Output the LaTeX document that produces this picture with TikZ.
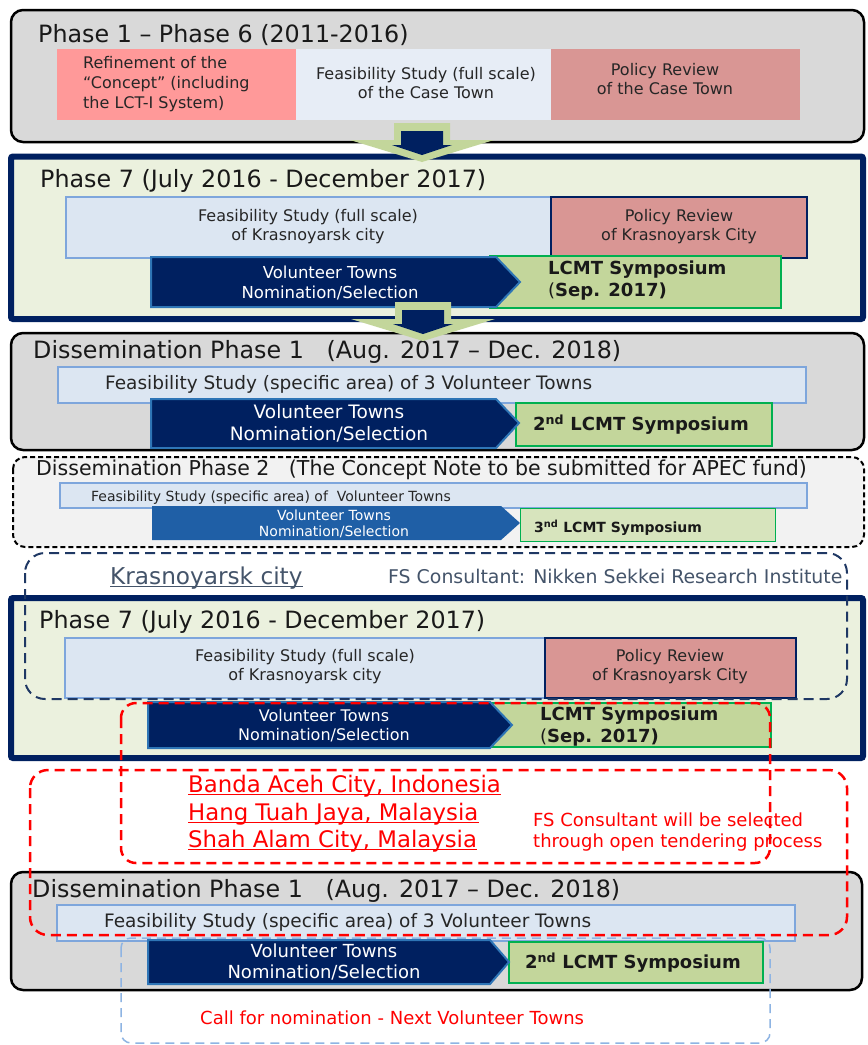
\documentclass[tikz,border=0pt]{standalone}
\usepackage{fontspec}
\setmainfont{DejaVu Sans}

\begin{document}
\begin{tikzpicture}[x=1pt,y=-1pt,
    titulo/.style={anchor=west,inner sep=0pt,text=black!90,font=\fontsize{23.8}{28}\selectfont},
    texto/.style={inner sep=0pt,align=center,text=black!85,font=\fontsize{16}{19}\selectfont},
    blanco/.style={inner sep=0pt,align=center,text=white},
    negrita/.style={anchor=west,inner sep=0pt,align=left,text=black!90,font=\bfseries\fontsize{18}{22}\selectfont},
    rojo/.style={anchor=base west,inner sep=0pt,text=red,font=\fontsize{22.8}{27}\selectfont},
    fase/.style={fill=gris,draw=black,line width=2.5pt,rounded corners=12pt},
    fasesiete/.style={fill=beige,draw=navy,line width=6pt,rounded corners=2pt},
    estudio/.style={fill=celeste,draw=bordeazul,line width=1.5pt},
    revision/.style={fill=rosa,draw=navy,line width=1.5pt},
    flecha/.style={fill=navy,draw=azul,line width=2pt},
    simposio/.style={fill=verde,draw=verdeborde,line width=2.5pt},
    rojadash/.style={draw=red,line width=2.5pt,dash pattern=on 10pt off 6pt,rounded corners=18pt}]
    %colores
    \definecolor{gris}{HTML}{D9D9D9}
    \definecolor{grisclaro}{HTML}{F2F2F2}
    \definecolor{salmon}{HTML}{FF9999}
    \definecolor{celeste}{HTML}{DCE6F2}
    \definecolor{rosa}{HTML}{D99694}
    \definecolor{navy}{HTML}{002060}
    \definecolor{azul}{HTML}{2E75B6}
    \definecolor{azulmedio}{HTML}{1F5FA6}
    \definecolor{verde}{HTML}{C3D69B}
    \definecolor{verdeclaro}{HTML}{D7E4BD}
    \definecolor{verdeborde}{HTML}{00B050}
    \definecolor{beige}{HTML}{EBF1DE}
    \definecolor{bordeazul}{HTML}{7EA6DC}
    \definecolor{celesteborde}{HTML}{8EB4E3}
    \definecolor{navygris}{HTML}{1F3864}
    \definecolor{textogris}{HTML}{44546A}

    % fondo
    \fill[white] (0,0) rectangle (868,1045);
    \useasboundingbox (0,0) rectangle (868,1045);

    % Fase 1 - Fase 6
    \draw[fase] (11,10) rectangle (864,142);
    \fill[salmon] (57,49) rectangle (296,120);
    \fill[celeste!70!white] (296,49) rectangle (551,120);
    \fill[rosa] (551,49) rectangle (800,120);
    \node[titulo] (tit1) at (38,35) {Phase 1 – Phase 6 (2011-2016)};
    \node[texto,anchor=west,align=left,font=\fontsize{16}{20}\selectfont] (concepto) at (83,84) {Refinement of the\\“Concept” (including\\the LCT-I System)};
    \node[texto] (fscase) at (426,83) {Feasibility Study (full scale)\\of the Case Town};
    \node[texto] (prcase) at (665,79) {Policy Review\\of the Case Town};

    % Fase 7
    \draw[fasesiete] (11,156.5) rectangle (863,319);
    \draw[estudio] (66,197) rectangle (551,258);
    \draw[revision] (551,197) rectangle (807,258);
    \draw[simposio] (490,256) rectangle (781,308);
    \draw[flecha] (151,257) -- (496,257) -- (520,282) -- (496,307) -- (151,307) -- cycle;
    \node[titulo] (tit2) at (40,181) {Phase 7 (July 2016 - December 2017)};
    \node[texto] (fskras) at (308,227) {Feasibility Study (full scale)\\of Krasnoyarsk city};
    \node[texto] (prkras) at (679,227) {Policy Review\\of Krasnoyarsk City};
    \node[blanco,font=\fontsize{16.5}{20}\selectfont] (vol2) at (330,283) {Volunteer Towns\\Nomination/Selection};
    \node[negrita] (sym2) at (548,281) {LCMT Symposium\\{\mdseries(}Sep. 2017)};

    % Diseminacion fase 1
    \draw[fase] (11,333) rectangle (864,450);
    \draw[estudio] (58,367) rectangle (806,403);
    \draw[simposio] (516,403) rectangle (772,446);
    \draw[flecha] (151,399) -- (496,399) -- (519,423) -- (496,448) -- (151,448) -- cycle;
    \node[titulo] (tit3) at (33,352) {Dissemination Phase 1\ \ \ (Aug. 2017 – Dec. 2018)};
    \node[texto,anchor=west,font=\fontsize{18.5}{22}\selectfont] (fs3) at (105,384) {Feasibility Study (specific area) of 3 Volunteer Towns};
    \node[blanco,font=\fontsize{18.5}{22}\selectfont] (vol3) at (329,423) {Volunteer Towns\\Nomination/Selection};
    \node[negrita] (sym3) at (533,425) {2\textsuperscript{nd} LCMT Symposium};

    % flechas
    \foreach \ax/\ay in {422/123,423/302}{
        \fill[verde] (\ax-28,\ay) -- (\ax+28,\ay) -- (\ax+28,\ay+17) -- (\ax+72,\ay+17) -- (\ax,\ay+39) -- (\ax-72,\ay+17) -- (\ax-28,\ay+17) -- cycle;
        \fill[navy] (\ax-21,\ay+8) -- (\ax+21,\ay+8) -- (\ax+21,\ay+22) -- (\ax+30,\ay+22) -- (\ax,\ay+32) -- (\ax-30,\ay+22) -- (\ax-21,\ay+22) -- cycle;
    }

    % Diseminacion fase 2
    \draw[fill=grisclaro,draw=black,line width=2pt,dash pattern=on 5pt off 3pt,rounded corners=12pt] (13,457) rectangle (864,547);
    \draw[estudio,line width=1.2pt] (60,483) rectangle (807,508);
    \draw[fill=verdeclaro,draw=verdeborde,line width=1pt] (520,508) rectangle (775,541);
    \fill[azulmedio] (152,506) -- (501,506) -- (520,523) -- (501,540) -- (152,540) -- cycle;
    \node[titulo,font=\fontsize{20.5}{24}\selectfont] (tit4) at (36,470) {Dissemination Phase 2\ \ \ (The Concept Note to be submitted for APEC fund)};
    \node[texto,anchor=west,font=\fontsize{14}{17}\selectfont] (fs4) at (91,498) {Feasibility Study (specific area) of\ \ Volunteer Towns};
    \node[blanco,font=\fontsize{14}{16}\selectfont] (vol4) at (334,524) {Volunteer Towns\\Nomination/Selection};
    \node[negrita,font=\bfseries\fontsize{14}{17}\selectfont] (sym4) at (534,528) {3\textsuperscript{nd} LCMT Symposium};

    % Krasnoyarsk
    \node[anchor=base west,inner sep=0pt,text=textogris,font=\fontsize{23.2}{27}\selectfont] (kras) at (110,584) {Krasnoyarsk city};
    \draw[textogris,line width=1pt] ([yshift=-2.5pt]kras.base west) -- ([yshift=-2.5pt]kras.base east);
    \node[anchor=west,inner sep=0pt,text=textogris,font=\fontsize{18.9}{22}\selectfont] (consul) at (388,576) {FS Consultant: Nikken Sekkei Research Institute};

    % Fase 7 (otra vez)
    \draw[fasesiete] (11,598) rectangle (863,758);
    \draw[estudio] (65,638) rectangle (545,698);
    \draw[revision] (545,638) rectangle (796,698);
    \draw[simposio] (490,703) rectangle (771,747);
    \draw[flecha] (148,702) -- (490,702) -- (512,725) -- (490,748) -- (148,748) -- cycle;
    \node[titulo] (tit5) at (39,622) {Phase 7 (July 2016 - December 2017)};
    \node[texto] (fskras5) at (305,667) {Feasibility Study (full scale)\\of Krasnoyarsk city};
    \node[texto] (prkras5) at (670,667) {Policy Review\\of Krasnoyarsk City};
    \node[blanco,font=\fontsize{16}{19}\selectfont] (vol5) at (324,726) {Volunteer Towns\\Nomination/Selection};
    \node[negrita] (sym5) at (540,727) {LCMT Symposium\\{\mdseries(}Sep. 2017)};

    \draw[navygris,line width=2pt,dash pattern=on 10pt off 6pt,rounded corners=20pt] (25,553) rectangle (847,699);
    \draw[rojadash,rounded corners=15pt] (121,703) rectangle (770,863);

    % ciudades
    \foreach \cy/\ct [count=\i] in {792/{Banda Aceh City, Indonesia},820/{Hang Tuah Jaya, Malaysia},847/{Shah Alam City, Malaysia}}{
        \node[rojo] (ciudad\i) at (188,\cy) {\ct};
        \draw[red,line width=1.2pt] ([yshift=-2.5pt]ciudad\i.base west) -- ([yshift=-2.5pt]ciudad\i.base east);
    }
    \node[anchor=west,inner sep=0pt,align=left,text=red,font=\fontsize{18}{21.5}\selectfont] (licita) at (533,832) {FS Consultant will be selected\\through open tendering process};

    % Diseminacion fase 1 (otra vez)
    \draw[fase] (11,872) rectangle (862,990);
    \draw[estudio] (57,905) rectangle (795,941);
    \draw[simposio] (509,942) rectangle (763,983);
    \draw[flecha] (148,940) -- (490,940) -- (509,962) -- (490,984) -- (148,984) -- cycle;
    \node[titulo] (tit6) at (32,891) {Dissemination Phase 1\ \ \ (Aug. 2017 – Dec. 2018)};
    \node[texto,anchor=west,font=\fontsize{18.5}{22}\selectfont] (fs6) at (104,922) {Feasibility Study (specific area) of 3 Volunteer Towns};
    \node[blanco,font=\fontsize{18}{21}\selectfont] (vol6) at (324,962) {Volunteer Towns\\Nomination/Selection};
    \node[negrita] (sym6) at (525,963) {2\textsuperscript{nd} LCMT Symposium};
    \draw[celesteborde,line width=1.5pt,dash pattern=on 9pt off 6pt,rounded corners=10pt] (121,938) rectangle (770,1043);
    \draw[rojadash] (30,770) rectangle (847,935);
    \node[anchor=west,inner sep=0pt,text=red,font=\fontsize{18}{21}\selectfont] (llamada) at (200,1018) {Call for nomination - Next Volunteer Towns};
\end{tikzpicture}
\end{document}
